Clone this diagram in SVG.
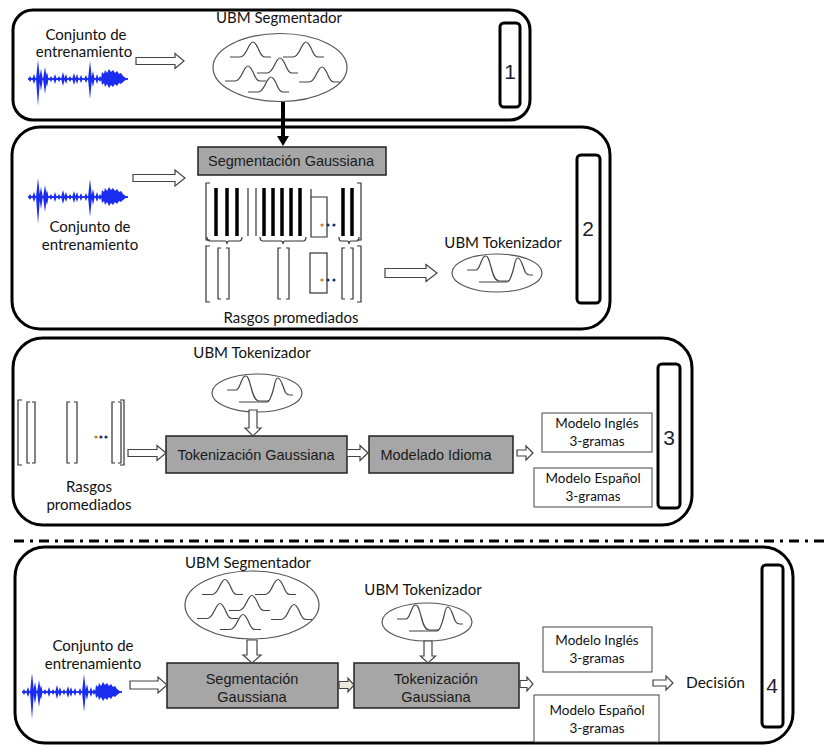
<svg xmlns="http://www.w3.org/2000/svg" width="825" height="746" viewBox="0 0 825 746">
<style>
.panel{fill:none;stroke:#000;stroke-width:3}
.tag{fill:none;stroke:#000;stroke-width:3}
.num{font-family:"Liberation Sans",Arial,sans-serif;font-size:21px;fill:#1e1e30;text-anchor:middle}
.cal{font-family:Lato,"Noto Sans",sans-serif;font-size:15px;fill:#111;text-anchor:middle}
.sm{font-size:13.5px}
.box{fill:#a6a6a6;stroke:#222;stroke-width:1.5}
.bt{font-family:"Liberation Sans",Arial,sans-serif;font-size:14.5px;fill:#1a1a1a;text-anchor:middle}
.mbox{fill:#fff;stroke:#444;stroke-width:1}
.harrow{fill:#fff;stroke:#444;stroke-width:1.2}
.br{fill:none;stroke:#333;stroke-width:1.2}
.bar{stroke:#000;stroke-width:3.5}
.thin{stroke:#333;stroke-width:1.2}
.ell{fill:#fff;stroke:#555;stroke-width:1.2}
.bell{fill:none;stroke:#444;stroke-width:1.2}
.wave{fill:#1a2cf0}
.dotO{fill:#d07a20}
.dotB{fill:#1f2f6a}
</style>
<defs>
<path id="bell" class="bell" d="M0,15 H10 C14,15 16,10 18,6 C20,2 21,0 23,0 C25,0 26,2 28,6 C30,10 31,15 35,15 H41"/>
<g id="ubmSeg">
<ellipse class="ell" cx="0" cy="0" rx="67" ry="34"/>
<use href="#bell" x="-50" y="-25.5"/>
<use href="#bell" x="3" y="-25.5"/>
<use href="#bell" x="-23" y="-9.5"/>
<use href="#bell" x="-55" y="-1.5"/>
<use href="#bell" x="19" y="-0.5"/>
<use href="#bell" x="-32" y="9.5"/>
</g>
<g id="ubmTok">
<ellipse class="ell" cx="0" cy="0" rx="45" ry="19"/>
<path class="bell" d="M-30,-3 H-21 C-18,-3 -17,-9 -15,-13 C-14,-16 -13,-17 -11,-17 C-9,-17 -8,-13 -6,-6 C-4,2 -2,8 2,8 H12"/>
<path class="bell" d="M-18,9 H10 C13,9 15,2 17,-6 C18,-12 19,-15 21,-15 C23,-15 24,-12 26,-7 C28,-1 29,2 33,2 H36"/>
</g>
<g id="wave" class="wave">
<rect x="0" y="-0.9" width="100" height="1.8"/>
<path d="M0.3,0 L2,-3 L3.7,0 L2,3 Z M4.2,0 L6,-5 L7.8,0 L6,5 Z M8,0 L10,-19 L12,0 L10,27 Z M11.2,0 L13,-10 L14.8,0 L13,12 Z M15,0 L17,-12 L19,0 L17,15 Z M17.4,0 L19,-7 L20.6,0 L19,8 Z M21.3,0 L23,-3 L24.7,0 L23,3 Z M25.3,0 L27,-5 L28.7,0 L27,5 Z M29.3,0 L31,-3 L32.7,0 L31,3 Z M33.1,0 L35,-7 L36.9,0 L35,7 Z M36.3,0 L38,-5 L39.7,0 L38,5 Z M40.3,0 L42,-3 L43.7,0 L42,3 Z M44.2,0 L46,-6 L47.8,0 L46,6 Z M47.3,0 L49,-5 L50.7,0 L49,5 Z M51.3,0 L53,-4 L54.7,0 L53,4 Z M56.3,0 L58,-4 L59.7,0 L58,4 Z M60,0 L62,-18 L64,0 L62,20 Z M63.3,0 L65,-8 L66.7,0 L65,8 Z M67.3,0 L69,-5 L70.7,0 L69,5 Z M70.3,0 L72,-3 L73.7,0 L72,3 Z"/>
<path d="M73,0 L74,-7 L76,-5 L77,-9 L79,-6 L81,-10 L83,-7 L85,-9 L87,-6 L89,-8 L91,-5 L93,-6 L95,-3 L99,0 L95,3 L93,5 L91,4 L89,7 L87,5 L85,8 L83,6 L81,9 L79,5 L77,8 L76,4 L74,6 Z"/>
</g>
</defs>

<rect width="825" height="746" fill="#fff"/>

<!-- Panel 1 -->
<g id="panel1">
<rect class="panel" x="13" y="10" width="517" height="110" rx="20"/>
<rect class="tag" x="500" y="23" width="20" height="84" rx="4"/>
<text class="num" x="510" y="79">1</text>
</g>
<g id="p1-train">
<text class="cal" x="86" y="40">Conjunto de</text>
<text class="cal" x="84" y="57">entrenamiento</text>
<use href="#wave" transform="translate(28,79)"/>
</g>
<g id="p1-ubm-seg">
<text class="cal" x="279" y="23">UBM Segmentador</text>
<use href="#ubmSeg" transform="translate(280,67.5)"/>
</g>

<!-- Panel 2 -->
<g id="panel2">
<rect class="panel" x="12" y="127" width="598" height="202" rx="28"/>
<rect class="tag" x="577" y="155" width="23" height="148" rx="4"/>
<text class="num" x="588" y="236">2</text>
</g>
<g id="p2-train">
<use href="#wave" transform="translate(28,197)"/>
<text class="cal" x="90" y="232">Conjunto de</text>
<text class="cal" x="90" y="250">entrenamiento</text>
</g>
<g id="p2-seg-gauss">
<rect class="box" x="198" y="147" width="188" height="28"/>
<text class="bt" x="291" y="166">Segmentación Gaussiana</text>
</g>
<g id="p2-features">
<path class="br" d="M210,183 H206 V240 H210 M357,183 H361 V240 H357"/>
<line class="bar" x1="216" y1="188" x2="216" y2="236"/>
<line class="bar" x1="227" y1="188" x2="227" y2="236"/>
<line class="bar" x1="237" y1="188" x2="237" y2="236"/>
<line class="thin" x1="248" y1="188" x2="248" y2="236"/>
<line class="thin" x1="256" y1="188" x2="256" y2="236"/>
<line class="bar" x1="264" y1="188" x2="264" y2="236"/>
<line class="bar" x1="273" y1="188" x2="273" y2="236"/>
<line class="bar" x1="282" y1="188" x2="282" y2="236"/>
<line class="bar" x1="291" y1="188" x2="291" y2="236"/>
<line class="bar" x1="300" y1="188" x2="300" y2="236"/>
<path class="br" d="M311,189 V237 H327 V197 H311"/>
<line class="bar" x1="343" y1="188" x2="343" y2="236"/>
<line class="bar" x1="352" y1="188" x2="352" y2="236"/>
<circle class="dotO" cx="322" cy="225" r="1.6"/>
<circle class="dotB" cx="328" cy="225" r="1.6"/>
<circle class="dotB" cx="334" cy="225" r="1.6"/>
<path class="br" d="M207,237 Q207,241 210,241 H225 Q227,241 227,244 Q227,241 229,241 H239 Q242,241 242,237"/>
<path class="br" d="M260,237 Q260,241 263,241 H281 Q283,241 283,244 Q283,241 285,241 H303 Q306,241 306,237"/>
<path class="br" d="M339,237 Q339,241 341,241 H347 Q349,241 349,244 Q349,241 351,241 H357 Q359,241 359,237"/>
<path class="br" d="M210,246 H206 V302 H210 M357,246 H361 V302 H357"/>
<path class="br" d="M221,248 H218 V299 H221 M226,248 H229 V299 H226"/>
<path class="br" d="M281,248 H278 V299 H281 M286,248 H289 V299 H286"/>
<path class="br" d="M345,248 H342 V299 H345 M350,248 H353 V299 H350"/>
<rect class="br" x="310" y="253" width="17" height="40"/>
<circle class="dotO" cx="322" cy="280" r="1.6"/>
<circle class="dotB" cx="328" cy="280" r="1.6"/>
<circle class="dotB" cx="334" cy="280" r="1.6"/>
<text class="cal" x="291" y="323">Rasgos promediados</text>
</g>
<g id="p2-ubm-tok">
<text class="cal" x="503" y="248">UBM Tokenizador</text>
<use href="#ubmTok" transform="translate(497,273)"/>
</g>

<!-- Panel 3 -->
<g id="panel3">
<rect class="panel" x="13" y="338" width="679" height="187" rx="30"/>
<rect class="tag" x="658" y="364" width="22" height="144" rx="4"/>
<text class="num" x="669" y="445">3</text>
</g>
<g id="p3-features">
<path class="br" d="M22,400 H18 V465 H22 M30,402 H27 V463 H30 M32,402 H35 V463 H32"/>
<path class="br" d="M70,402 H67 V463 H70 M74,402 H77 V463 H74"/>
<path class="br" d="M115,402 H112 V463 H115 M118,402 H121 V463 H118 M120,400 H124 V465 H120"/>
<circle class="dotO" cx="96" cy="437" r="1.6"/>
<circle class="dotB" cx="101" cy="437" r="1.6"/>
<circle class="dotB" cx="106" cy="437" r="1.6"/>
<text class="cal" x="89" y="492">Rasgos</text>
<text class="cal" x="89" y="510">promediados</text>
</g>
<g id="p3-ubm-tok">
<text class="cal" x="252" y="358">UBM Tokenizador</text>
<use href="#ubmTok" transform="translate(257,393)"/>
</g>
<g id="p3-tok-gauss">
<rect class="box" x="166" y="436" width="181" height="37"/>
<text class="bt" x="256" y="460">Tokenización Gaussiana</text>
</g>
<g id="p3-lang-model">
<rect class="box" x="369" y="436" width="144" height="37"/>
<text class="bt" x="436" y="460">Modelado Idioma</text>
</g>
<g id="p3-model-en">
<rect class="mbox" x="542" y="413" width="110" height="39"/>
<text class="cal sm" x="597" y="428">Modelo Inglés</text>
<text class="cal sm" x="597" y="446">3-gramas</text>
</g>
<g id="p3-model-es">
<rect class="mbox" x="534" y="468" width="118" height="39"/>
<text class="cal sm" x="593" y="483">Modelo Español</text>
<text class="cal sm" x="593" y="501">3-gramas</text>
</g>

<!-- Separator -->
<line x1="14" y1="541" x2="825" y2="541" stroke="#000" stroke-width="3" stroke-dasharray="10 6 3 6"/>

<!-- Panel 4 -->
<g id="panel4">
<rect class="panel" x="15" y="547" width="778" height="196" rx="30"/>
<rect class="tag" x="762" y="565" width="21" height="162" rx="4"/>
<text class="num" x="772" y="693">4</text>
</g>
<g id="p4-train">
<text class="cal" x="93" y="651">Conjunto de</text>
<text class="cal" x="93" y="669">entrenamiento</text>
<use href="#wave" transform="translate(22,692)"/>
</g>
<g id="p4-ubm-seg">
<text class="cal" x="248" y="568">UBM Segmentador</text>
<use href="#ubmSeg" transform="translate(252,605)"/>
</g>
<g id="p4-ubm-tok">
<text class="cal" x="423" y="595">UBM Tokenizador</text>
<use href="#ubmTok" transform="translate(427,622)"/>
</g>
<g id="p4-seg-gauss">
<rect class="box" x="167" y="663" width="171" height="45"/>
<text class="bt" x="252" y="684">Segmentación</text>
<text class="bt" x="252" y="702">Gaussiana</text>
</g>
<g id="p4-tok-gauss">
<rect class="box" x="354" y="663" width="165" height="45"/>
<text class="bt" x="436" y="684">Tokenización</text>
<text class="bt" x="436" y="702">Gaussiana</text>
</g>
<g id="p4-model-en">
<rect class="mbox" x="543" y="627" width="109" height="45"/>
<text class="cal sm" x="597" y="645">Modelo Inglés</text>
<text class="cal sm" x="597" y="663">3-gramas</text>
</g>
<g id="p4-model-es">
<rect class="mbox" x="534" y="695" width="125" height="47"/>
<text class="cal sm" x="597" y="715">Modelo Español</text>
<text class="cal sm" x="597" y="733">3-gramas</text>
</g>
<g id="p4-decision">
<text class="cal" x="686" y="688" style="text-anchor:start;font-size:15.5px">Decisión</text>
</g>

<!-- Connectors -->
<g id="connectors">
<path class="harrow" d="M136,57.5 H175 V53.5 L184,61 L175,68.5 V64.5 H136 Z"/>
<line x1="283" y1="102" x2="283" y2="138" stroke="#000" stroke-width="4"/>
<polygon points="277,136 289,136 283,146" fill="#000"/>
<path class="harrow" d="M133,174.5 H175 V170 L185,178 L175,186 V181.5 H133 Z"/>
<path class="harrow" d="M385,268.5 H426 V264.5 L437,273 L426,281.5 V277.5 H385 Z"/>
<path class="harrow" d="M249,410 V428 H245 L253,436 L261,428 H257 V410 Z"/>
<path class="harrow" d="M128,449.5 H157 V445.5 L166,453 L157,460.5 V456.5 H128 Z"/>
<path class="harrow" d="M347,449.5 H360 V445.5 L368,453 L360,460.5 V456.5 H347 Z"/>
<path class="harrow" d="M517,450 H526 V446 L533,453 L526,460 V456 H517 Z"/>
<path class="harrow" d="M247,640 V655 H243 L252,663 L261,655 H257 V640 Z"/>
<path class="harrow" d="M424,641 V656 H420.5 L428,663 L435.5,656 H432 V641 Z"/>
<path class="harrow" d="M130,681 H158 V677 L167,685 L158,693 V689 H130 Z"/>
<path class="harrow" d="M339,681.5 H348 V678 L354,685 L348,692 V688.5 H339 Z" style="fill:#efe9dc"/>
<path class="harrow" d="M520,680.5 H527 V677 L533,684 L527,691 V687.5 H520 Z"/>
<path class="harrow" d="M653,680 H666 V676 L673,683 L666,690 V686 H653 Z"/>
</g>
</svg>
